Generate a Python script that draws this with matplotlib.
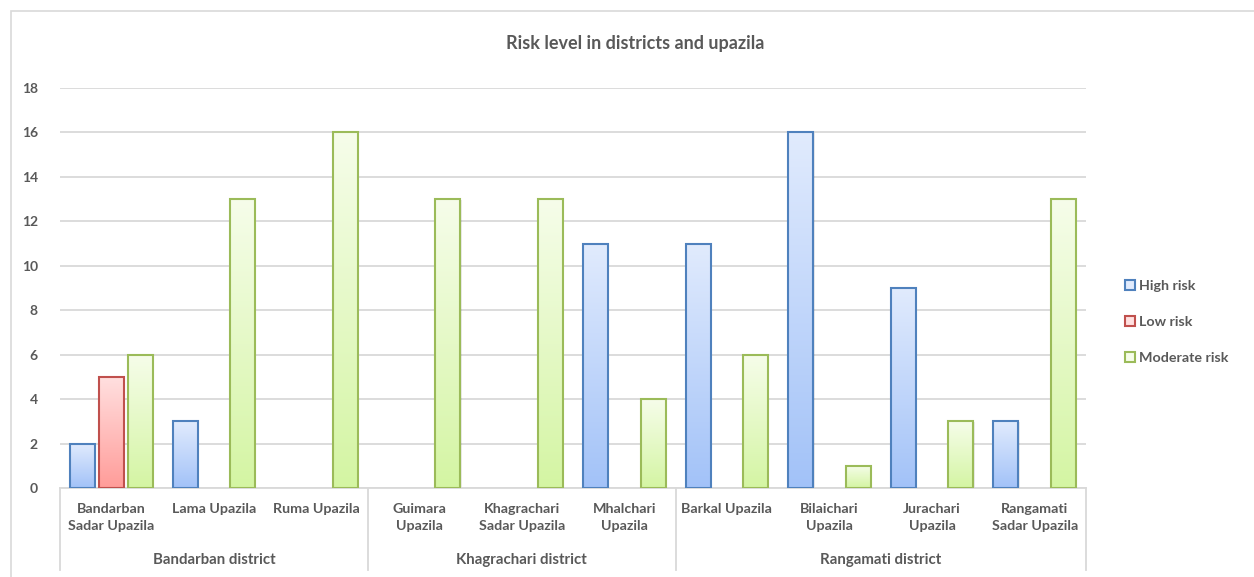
import numpy as np
import matplotlib.pyplot as plt
from matplotlib.patches import Rectangle
from matplotlib.colors import LinearSegmentedColormap

plt.rcParams['font.family'] = ['Lato', 'DejaVu Sans']

upazilas = ['Bandarban\nSadar Upazila', 'Lama Upazila', 'Ruma Upazila',
            'Guimara\nUpazila', 'Khagrachari\nSadar Upazila', 'Mhalchari\nUpazila',
            'Barkal Upazila', 'Bilaichari\nUpazila', 'Jurachari\nUpazila',
            'Rangamati\nSadar Upazila']
districts = ['Bandarban district', 'Khagrachari district', 'Rangamati district']
district_sizes = [3, 3, 4]

series = ['High risk', 'Low risk', 'Moderate risk']
high = [2, 3, np.nan, np.nan, np.nan, 11, 11, 16, 9, 3]
low = [5, np.nan, np.nan, np.nan, np.nan, np.nan, np.nan, np.nan, np.nan, np.nan]
moderate = [6, 13, 16, 13, 13, 4, 6, 1, 3, 13]
values = [high, low, moderate]

# (top colour, bottom colour, edge colour)
styles = [('#e1ebfd', '#a2c2f8', '#4f81bd'),
          ('#ffe0e0', '#ff9c99', '#c0504d'),
          ('#f6fdea', '#d4f5a3', '#9bbb59')]

txt = '#595959'
grid = '#d9d9d9'

W, H = 1254, 577
fig = plt.figure(figsize=(W / 100, H / 100), dpi=100)
ax = fig.add_axes([60 / W, 1 - 488 / H, (1086 - 60) / W, 400 / H])

# outer chart border
fig.patches.append(Rectangle((11 / W, -0.1), 1.2, 1 - 11 / H + 0.1,
                             transform=fig.transFigure, fill=False,
                             edgecolor=grid, lw=1.2, zorder=0))

x = np.arange(len(upazilas))
width = 0.244
offsets = [-0.28, 0.0, 0.28]

for vals, off, (ctop, cbot, edge) in zip(values, offsets, styles):
    cmap = LinearSegmentedColormap.from_list('g', [cbot, ctop])
    for xi, v in zip(x, vals):
        if np.isnan(v):
            continue
        x0 = xi + off - width / 2
        # faint shadow
        sh = Rectangle((x0 + 0.012, 0), width, v - 0.03, facecolor='#000000',
                       alpha=0.08, edgecolor='none', zorder=2)
        ax.add_patch(sh)
        rect = Rectangle((x0, 0), width, v, facecolor='none',
                         edgecolor=edge, lw=1.5, zorder=4)
        ax.add_patch(rect)
        grad = np.linspace(0, 1, 256).reshape(-1, 1)
        im = ax.imshow(grad, cmap=cmap, aspect='auto', origin='lower',
                       extent=(x0, x0 + width, 0, v), zorder=3)
        im.set_clip_path(rect)

ax.set_xlim(-0.5, len(upazilas) - 0.5)
ax.set_ylim(0, 18)
ax.set_yticks(range(0, 19, 2))
ax.set_yticklabels([str(t) for t in range(0, 19, 2)], fontsize=10,
                   fontweight='bold', color=txt)
ax.tick_params(axis='y', length=0, pad=16)
ax.set_xticks([])
ax.yaxis.grid(True, color=grid, lw=1.3)
ax.set_axisbelow(True)
for s in ['top', 'right', 'left']:
    ax.spines[s].set_visible(False)
ax.spines['bottom'].set_color(grid)
ax.spines['bottom'].set_linewidth(1.3)

tr = ax.get_xaxis_transform()
for xi, lab in zip(x, upazilas):
    ax.text(xi, -0.037, lab, transform=tr, ha='center', va='top', fontsize=10.3,
            fontweight='bold', color=txt, linespacing=1.5, clip_on=False)

start = -0.5
bounds = [start]
for name, n in zip(districts, district_sizes):
    ax.text(start + n / 2, -0.18, name, transform=tr, ha='center', va='center',
            fontsize=10.8, fontweight='bold', color=txt, clip_on=False)
    start += n
    bounds.append(start)
for b in bounds:
    ax.plot([b, b], [0, -0.205], transform=tr, color=grid, lw=1.3,
            clip_on=False)

handles = [Rectangle((0, 0), 1, 1, facecolor=c[0], edgecolor=c[2], lw=1.5)
           for c in styles]
fig.legend(handles, series, loc='center left', bbox_to_anchor=(1112 / W, 1 - 322 / H),
           frameon=False, labelspacing=1.7, handlelength=0.7,
           handleheight=0.7, handletextpad=0.3, labelcolor=txt,
           prop={'weight': 'bold', 'size': 10.3})

fig.text(635 / W, 1 - 44 / H, 'Risk level in districts and upazila', ha='center',
         va='center', fontsize=13, fontweight='bold', color=txt)

fig.savefig('out.png', dpi=100)
